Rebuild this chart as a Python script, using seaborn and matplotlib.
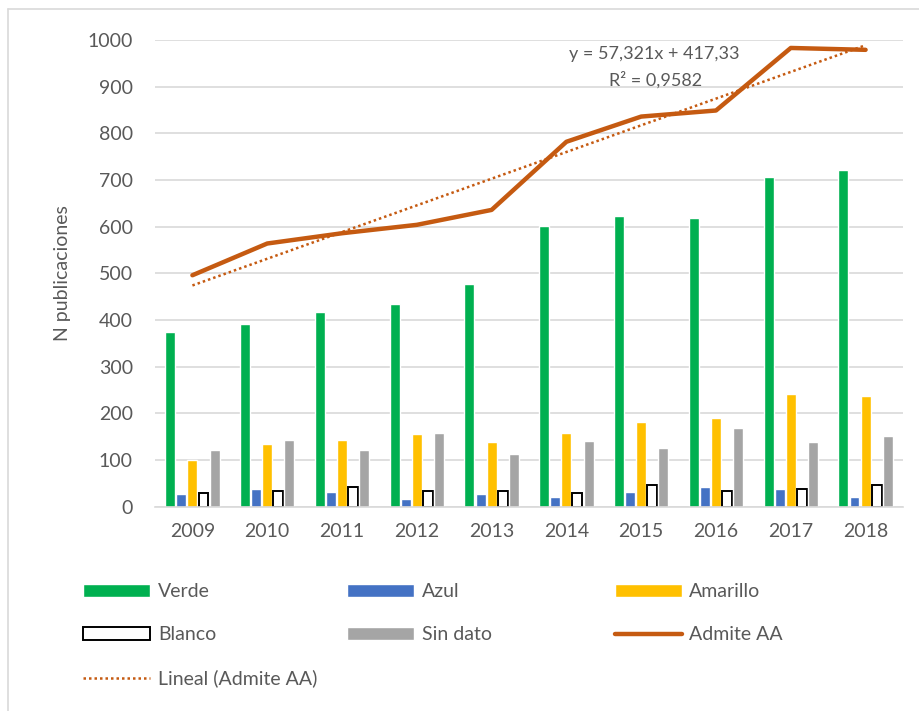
import numpy as np
import pandas as pd
import matplotlib
matplotlib.use('Agg')
import matplotlib.pyplot as plt
from matplotlib.patches import Patch
from matplotlib.lines import Line2D
import seaborn as sns

# values
years = ['2009', '2010', '2011', '2012', '2013', '2014', '2015', '2016', '2017', '2018']
verde = [375, 391, 417, 434, 477, 601, 624, 619, 706, 721]
azul = [27, 39, 31, 17, 27, 21, 31, 43, 39, 21]
amarillo = [100, 134, 143, 156, 138, 159, 181, 190, 241, 237]
blanco = [30, 34, 43, 34, 34, 30, 46, 34, 39, 46]
sin_dato = [121, 143, 121, 159, 113, 141, 125, 168, 138, 151]
admite_aa = [496, 564, 586, 604, 636, 782, 836, 849, 983, 979]

series_names = ['Verde', 'Azul', 'Amarillo', 'Blanco', 'Sin dato']
series_colors = ['#00B050', '#4472C4', '#FFC000', '#FFFFFF', '#A5A5A5']
line_color = '#C55A11'
text_color = '#595959'
grid_color = '#D9D9D9'

trend_eq = 'y = 57,321x + 417,33'
trend_r2 = 'R² = 0,9582'

df = pd.DataFrame({'year': years, 'Verde': verde, 'Azul': azul, 'Amarillo': amarillo,
                   'Blanco': blanco, 'Sin dato': sin_dato})
long = df.melt(id_vars='year', var_name='serie', value_name='n')

sns.set_style('white')
plt.rcParams['font.family'] = ['Lato', 'DejaVu Sans']

fig = plt.figure(figsize=(9.2, 7.11), dpi=100)
ax = fig.add_axes([0.1685, 0.2873, 0.813, 0.6564])

sns.barplot(data=long, x='year', y='n', hue='serie', hue_order=series_names,
            palette=dict(zip(series_names, series_colors)), saturation=1,
            width=0.74, gap=0.1, legend=False, ax=ax, zorder=2)

# white bars get a black outline
for bar in ax.containers[series_names.index('Blanco')]:
    bar.set_edgecolor('black')
    bar.set_linewidth(1.4)

xpos = np.arange(len(years))
sns.lineplot(x=xpos, y=admite_aa, color=line_color, linewidth=3.2, ax=ax, zorder=4,
             solid_joinstyle='round', solid_capstyle='round')
sns.regplot(x=xpos, y=np.array(admite_aa), scatter=False, ci=None, ax=ax,
            line_kws=dict(color=line_color, linewidth=1.8, linestyle=(0, (1, 1.2)), zorder=5))

ax.set_xlim(-0.5, len(years) - 0.5)
ax.set_ylim(0, 1000)
ax.set_yticks(range(0, 1001, 100))
ax.set_xticks(xpos)
ax.set_xticklabels(years)
ax.yaxis.grid(True, color=grid_color, linewidth=1.2, zorder=0)
ax.set_axisbelow(True)
for s in ['top', 'right', 'left']:
    ax.spines[s].set_visible(False)
ax.spines['bottom'].set_color(grid_color)
ax.spines['bottom'].set_linewidth(1.2)
ax.tick_params(axis='both', length=0, labelsize=14, labelcolor=text_color)
ax.tick_params(axis='y', pad=16)
ax.tick_params(axis='x', pad=12)
ax.set_xlabel('')
ax.set_ylabel('N publicaciones', fontsize=14, color=text_color, labelpad=12)

ax.text(0.668, 0.970, trend_eq, transform=ax.transAxes, ha='center', va='center',
        fontsize=13, color=text_color)
ax.text(0.669, 0.914, trend_r2, transform=ax.transAxes, ha='center', va='center',
        fontsize=13, color=text_color)

# legend in three fixed columns, like the Excel layout
handles = {
    'Verde': Patch(facecolor=series_colors[0]),
    'Azul': Patch(facecolor=series_colors[1]),
    'Amarillo': Patch(facecolor=series_colors[2]),
    'Blanco': Patch(facecolor='white', edgecolor='black', linewidth=1.4),
    'Sin dato': Patch(facecolor=series_colors[4]),
    'Admite AA': Line2D([], [], color=line_color, linewidth=3.2),
    'Lineal (Admite AA)': Line2D([], [], color=line_color, linewidth=1.8,
                                 linestyle=(0, (1, 1.2))),
}
columns = [['Verde', 'Blanco', 'Lineal (Admite AA)'],
           ['Azul', 'Sin dato'],
           ['Amarillo', 'Admite AA']]
col_x = [0.0902, 0.377, 0.668]
for names, x in zip(columns, col_x):
    leg = fig.legend([handles[n] for n in names], names, loc='upper left',
                     bbox_to_anchor=(x, 0.1795), bbox_transform=fig.transFigure,
                     frameon=False, borderpad=0, borderaxespad=0, fontsize=14,
                     handlelength=3.45, handleheight=0.62, handletextpad=0.4,
                     labelspacing=1.34)
    for t in leg.get_texts():
        t.set_color(text_color)

# chart frame (top and left edges visible in the reference crop)
fig.add_artist(Line2D([8 / 920, 1], [1 - 9 / 711, 1 - 9 / 711], color=grid_color,
                      linewidth=1.2, transform=fig.transFigure))
fig.add_artist(Line2D([8 / 920, 8 / 920], [0, 1 - 9 / 711], color=grid_color,
                      linewidth=1.2, transform=fig.transFigure))

fig.savefig('out.png', dpi=100)
